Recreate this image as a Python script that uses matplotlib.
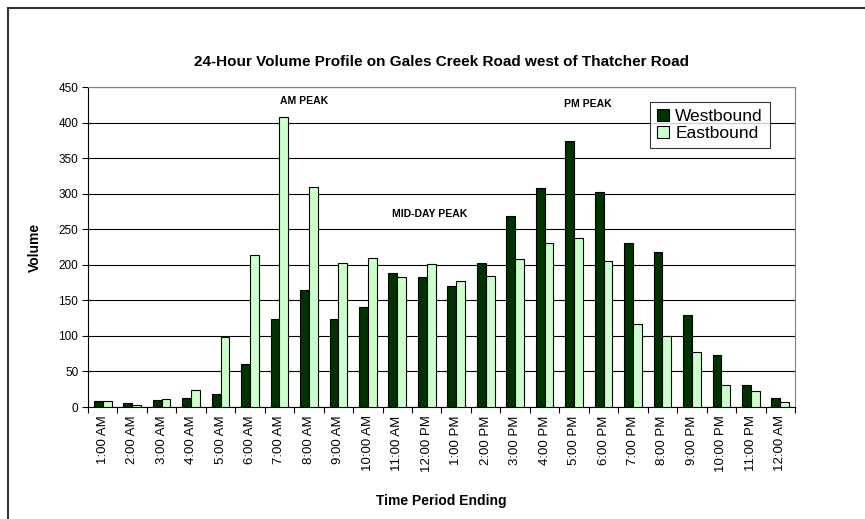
import numpy as np
import matplotlib.pyplot as plt

plt.rcParams['font.family'] = ['Liberation Sans', 'DejaVu Sans']

#%% data
hours = ['1:00 AM', '2:00 AM', '3:00 AM', '4:00 AM', '5:00 AM', '6:00 AM',
         '7:00 AM', '8:00 AM', '9:00 AM', '10:00 AM', '11:00 AM', '12:00 PM',
         '1:00 PM', '2:00 PM', '3:00 PM', '4:00 PM', '5:00 PM', '6:00 PM',
         '7:00 PM', '8:00 PM', '9:00 PM', '10:00 PM', '11:00 PM', '12:00 AM']

westbound = [8, 6, 10, 13, 18, 61, 124, 165, 124, 140, 189, 183,
             170, 202, 269, 308, 374, 302, 230, 218, 130, 73, 31, 13]
eastbound = [8, 3, 11, 24, 98, 214, 408, 309, 203, 209, 183, 201,
             177, 184, 208, 230, 237, 205, 117, 100, 78, 31, 22, 7]

# peak labels: (text, x position in category units, y value)
peak_labels = [('AM PEAK', 6.83, 430), ('MID-DAY PEAK', 11.1, 271), ('PM PEAK', 16.45, 426)]

#%% plot
fig = plt.figure(figsize=(8.65, 5.19), dpi=100)
ax = fig.add_axes([88/865, 1-407/519, (795-88)/865, (407-87)/519])

x = np.arange(len(hours))
w = 0.3
ax.bar(x - w/2, westbound, w, color='#003300', edgecolor='black', linewidth=0.8,
       label='Westbound', zorder=3)
ax.bar(x + w/2, eastbound, w, color='#CCFFCC', edgecolor='black', linewidth=0.8,
       label='Eastbound', zorder=3)

ax.set_xlim(-0.5, len(hours) - 0.5)
ax.set_ylim(0, 450)
ax.set_yticks(np.arange(0, 451, 50))
ax.yaxis.grid(True, color='black', linewidth=0.8, zorder=0)
ax.set_axisbelow(True)

# ticks between categories, labels at category centres
ax.set_xticks(np.arange(-0.5, len(hours), 1))
ax.set_xticklabels([])
ax.set_xticks(x, minor=True)
ax.set_xticklabels(hours, minor=True, rotation=90, fontsize=9.5)
ax.tick_params(axis='x', which='minor', length=0, pad=6)
ax.tick_params(axis='x', which='major', length=4, direction='out')
ax.tick_params(axis='y', length=4, labelsize=8.5, pad=3)

for s in ['top', 'right']:
    ax.spines[s].set_color('#808080')
for s in ['left', 'bottom']:
    ax.spines[s].set_color('black')

for txt, px, py in peak_labels:
    ax.text(px, py, txt, ha='center', va='center', fontsize=7.5, fontweight='bold')

ax.set_title('24-Hour Volume Profile on Gales Creek Road west of Thatcher Road',
             fontsize=11, fontweight='bold', pad=15)
ax.set_ylabel('Volume', fontsize=10, fontweight='bold', labelpad=12)
ax.set_xlabel('Time Period Ending', fontsize=10, fontweight='bold', labelpad=16)

leg = ax.legend(loc='upper left', bbox_to_anchor=((650-88)/707, (407-102)/320),
                fontsize=12.5, frameon=True, fancybox=False, edgecolor='black',
                handlelength=0.7, handleheight=0.7, handletextpad=0.35,
                borderpad=0.4, labelspacing=0.1, borderaxespad=0)
leg.get_frame().set_linewidth(0.8)

# outer chart frame (left and top edges visible)
fig.add_artist(plt.Line2D([8/865, 8/865], [0, 1-8/519], color='#333333', linewidth=1.5,
                          transform=fig.transFigure))
fig.add_artist(plt.Line2D([8/865, 1], [1-8/519, 1-8/519], color='#333333', linewidth=1.5,
                          transform=fig.transFigure))

fig.savefig('out.png', dpi=100)
